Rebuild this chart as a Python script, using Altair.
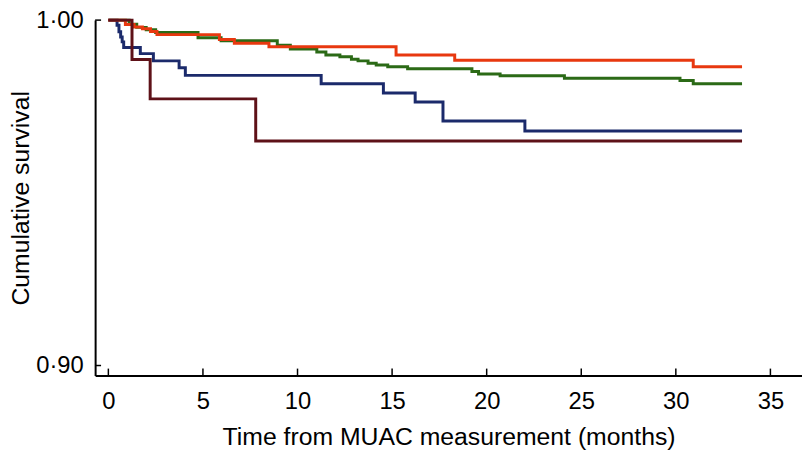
import altair as alt
import pandas as pd

# Kaplan-Meier step curves (time in months, cumulative survival)
green_t = [0, 1.1, 1.5, 2.0, 2.5, 4.74, 5.96, 8.93, 9.62, 11.02, 11.5, 12.24, 12.85, 13.2, 13.73,
           14.16, 14.77, 15.82, 19.22, 19.57, 20.71, 24.11, 30.22, 30.92, 33.5]
green_s = [1.0, 0.9988, 0.9979, 0.9972, 0.9964, 0.9949, 0.9940, 0.99275, 0.9916, 0.9908, 0.9899,
           0.9894, 0.9887, 0.9882, 0.9875, 0.9870, 0.9865, 0.9859, 0.9851, 0.9844, 0.9839, 0.9832,
           0.9825, 0.9816, 0.9816]

blue_t = [0, 0.46, 0.56, 0.65, 0.73, 0.81, 1.69, 2.38, 3.74, 4.07, 11.25, 14.54, 16.22, 17.69, 22.02, 33.5]
blue_s = [1.0, 0.9985, 0.9966, 0.9951, 0.9937, 0.9921, 0.9903, 0.9882, 0.9862, 0.9840, 0.9816,
          0.9789, 0.9763, 0.9708, 0.9679, 0.9679]

orange_t = [0, 0.9, 1.36, 1.8, 2.23, 2.57, 5.87, 6.66, 8.49, 15.21, 18.31, 30.92, 33.5]
orange_s = [1.0, 0.9987, 0.9980, 0.9975, 0.9967, 0.9958, 0.9944, 0.9933, 0.9923, 0.9899, 0.9884,
            0.9865, 0.9865]

maroon_t = [0, 1.25, 2.21, 7.79, 33.5]
maroon_s = [1.0, 0.9886, 0.9772, 0.9650, 0.9650]

series_names = ["green", "blue", "orange", "maroon"]
series_colors = ["#2B6A16", "#1B2A6B", "#E8380F", "#5E1118"]

x_ticks = [0, 5, 10, 15, 20, 25, 30, 35]
y_ticks = [0.90, 1.00]

rows = []
for name, ts, ss in [("green", green_t, green_s), ("blue", blue_t, blue_s),
                     ("orange", orange_t, orange_s), ("maroon", maroon_t, maroon_s)]:
    for t, s in zip(ts, ss):
        rows.append({"series": name, "t": t, "s": s})
df = pd.DataFrame(rows)

W, H = 714, 359
FONT = "Liberation Sans"

xscale = alt.Scale(domain=[-0.7, 36.67], nice=False, zero=False)
yscale = alt.Scale(domain=[0.8971, 1.0], nice=False, zero=False)

xaxis = alt.Axis(values=x_ticks, title="Time from MUAC measurement (months)",
                 labelPadding=33, labelBaseline="alphabetic",
                 titleY=70, titleBaseline="alphabetic")
yaxis = alt.Axis(values=y_ticks, title="Cumulative survival",
                 labelExpr="replace(format(datum.value, '.2f'), '.', '·')",
                 labelPadding=12,
                 titleX=-67, titleY=H / 2, titleBaseline="alphabetic",
                 titleAlign="center", titleAngle=270)

lines = alt.Chart(df).mark_line(interpolate="step-after", strokeWidth=3).encode(
    x=alt.X("t:Q", scale=xscale, axis=xaxis),
    y=alt.Y("s:Q", scale=yscale, axis=yaxis),
    color=alt.Color("series:N", scale=alt.Scale(domain=series_names, range=series_colors),
                    legend=None),
)

xt = alt.Chart(pd.DataFrame({"v": x_ticks})).mark_rule(color="black", strokeWidth=1.5).encode(
    x=alt.X("v:Q", scale=xscale, axis=xaxis),
    y=alt.value(H),
    y2=alt.value(H - 7),
)
yt = alt.Chart(pd.DataFrame({"v": y_ticks})).mark_rule(color="black", strokeWidth=1.5).encode(
    y=alt.Y("v:Q", scale=yscale, axis=yaxis),
    x=alt.value(0),
    x2=alt.value(6),
)

chart = alt.layer(lines, xt, yt).properties(
    width=W, height=H,
    padding={"left": 88, "top": 10, "right": 0, "bottom": 75},
    autosize=alt.AutoSizeParams(type="none"),
).configure_view(stroke=None).configure_axis(
    grid=False, ticks=False, tickSize=0,
    labelFontSize=24, titleFontSize=25,
    labelFont=FONT, titleFont=FONT, titleFontWeight="normal",
    domainColor="black", domainWidth=2, labelColor="black", titleColor="black",
)

chart.save("out.html", embed_options={"renderer": "svg", "actions": False})
